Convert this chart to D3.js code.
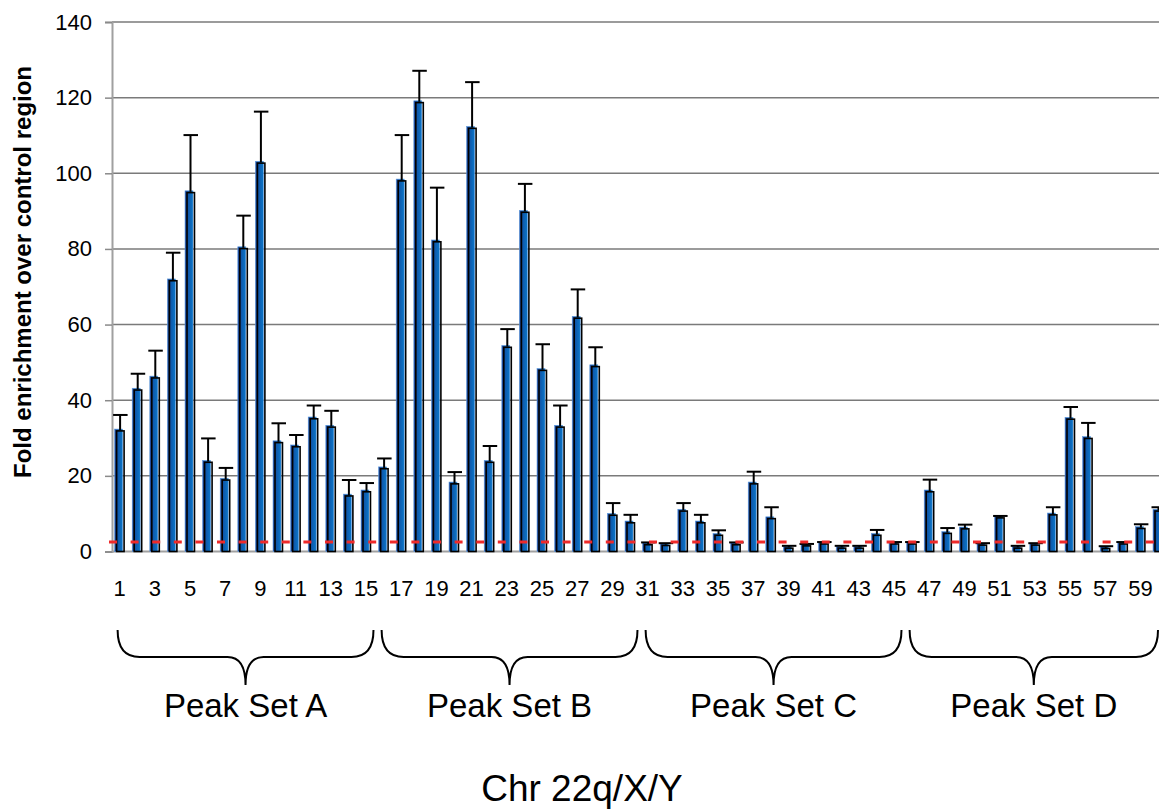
<!DOCTYPE html>
<html><head><meta charset="utf-8">
<script src="https://cdn.jsdelivr.net/npm/d3@7"></script>
<style>
html,body{margin:0;padding:0;background:#fff;}
svg{display:block;font-family:"Liberation Sans",Arial,sans-serif;}
</style></head>
<body>
<svg id="chart" width="1159" height="811"></svg>
<script>
// ---- data ----
const categories = d3.range(1, 61);
const values = [32.1,42.9,46.1,71.8,95.1,23.8,19.1,80.3,102.9,29.0,27.9,35.3,33.1,14.9,16.0,
                22.1,98.2,118.9,82.1,18.1,112.1,23.8,54.2,89.9,48.1,33.1,61.9,49.1,9.8,7.8,
                2.0,1.8,10.9,7.8,4.5,2.0,18.1,8.9,1.1,1.7,2.2,1.1,1.1,4.5,2.2,
                2.2,16.0,5.0,6.2,1.9,9.1,1.1,1.9,9.9,35.2,30.1,1.0,2.2,6.3,10.9];
const errors = [4.0,4.1,7.0,7.2,15.0,6.1,3.0,8.5,13.4,4.9,2.9,3.3,4.1,4.0,2.1,
                2.5,11.9,8.2,14.1,2.9,12.0,4.1,4.6,7.3,6.7,5.5,7.4,4.9,3.0,1.9,
                0.4,0.4,1.9,1.9,1.1,0.4,3.0,2.8,0.4,0.3,0.3,0.4,0.4,1.2,0.3,
                0.3,3.0,1.2,0.9,0.3,0.3,0.4,0.3,1.8,3.0,3.9,0.4,0.3,0.9,0.8];
const yTicks = [0,20,40,60,80,100,120,140];
const threshold = 2.5;
const groupNames = ["Peak Set A","Peak Set B","Peak Set C","Peak Set D"];
const groupFirst = [1,16,31,46];
const groupLast = [15,30,45,60];
const yTitle = "Fold enrichment over control region";
const xTitle = "Chr 22q/X/Y";

// ---- layout ----
const svg = d3.select("#chart");
const left = 110.8, step = 17.6;
const x = d3.scaleBand().domain(categories)
  .range([left, left + step * categories.length])
  .paddingInner(0.49).paddingOuter(0.245);
const y = d3.scaleLinear().domain([0,140]).range([551.5, 22]);
const plotRight = 1159, axisX = 112;

// gridlines
svg.append("g").selectAll("line").data(yTicks.filter(d => d > 0)).join("line")
  .attr("x1", axisX).attr("x2", plotRight)
  .attr("y1", d => y(d)).attr("y2", d => y(d))
  .attr("stroke", "#7a7a7a").attr("stroke-width", 1.5);

// y axis
const yAxis = d3.axisLeft(y).tickValues(yTicks).tickSize(7).tickPadding(13);
const gy = svg.append("g").attr("transform", `translate(${axisX},0)`).call(yAxis)
  .attr("font-size", 22).attr("font-family", "Liberation Sans, Arial, sans-serif");
gy.select(".domain").attr("stroke", "#a0a0a0").attr("stroke-width", 2);
gy.selectAll(".tick line").attr("stroke", "#8a8a8a").attr("stroke-width", 1.5);
gy.selectAll(".tick text").attr("fill", "#000");

// baseline
svg.append("line").attr("x1", axisX).attr("x2", plotRight)
  .attr("y1", y(0)).attr("y2", y(0)).attr("stroke", "#a0a0a0").attr("stroke-width", 2);

// gradient
const defs = svg.append("defs");
const grad = defs.append("linearGradient").attr("id", "barGrad")
  .attr("x1", "0").attr("x2", "1").attr("y1", "0").attr("y2", "0");
grad.append("stop").attr("offset", "0%").attr("stop-color", "#1f3f8e");
grad.append("stop").attr("offset", "55%").attr("stop-color", "#0d5fb2");
grad.append("stop").attr("offset", "100%").attr("stop-color", "#0a76c8");

const bw = x.bandwidth();
const data = categories.map((c, i) => ({c, v: values[i], e: errors[i]}));

// bars: blue body + offset black frame
const bars = svg.append("g");
bars.selectAll("rect.body").data(data).join("rect").attr("class", "body")
  .attr("x", d => x(d.c) - 0.5).attr("width", bw - 1)
  .attr("y", d => y(d.v) - 1).attr("height", d => y(0) - y(d.v) + 1)
  .attr("fill", "url(#barGrad)").attr("stroke", "#5b9be0").attr("stroke-width", 0.6);
bars.selectAll("rect.frame").data(data).join("rect").attr("class", "frame")
  .attr("x", d => x(d.c) + 1.5).attr("width", bw - 1.5)
  .attr("y", d => y(d.v) + 0.8).attr("height", d => Math.max(0, y(0) - y(d.v) - 0.8))
  .attr("fill", "none").attr("stroke", "#000").attr("stroke-width", 1.6);

// error bars
const eb = svg.append("g").attr("stroke", "#000").attr("stroke-width", 2);
eb.selectAll("line.stem").data(data).join("line")
  .attr("x1", d => x(d.c) + bw/2 + 0.5).attr("x2", d => x(d.c) + bw/2 + 0.5)
  .attr("y1", d => y(d.v)).attr("y2", d => y(d.v + d.e));
eb.selectAll("line.cap").data(data).join("line")
  .attr("x1", d => x(d.c) + bw/2 - 6.5).attr("x2", d => x(d.c) + bw/2 + 8)
  .attr("y1", d => y(d.v + d.e)).attr("y2", d => y(d.v + d.e));

// threshold line
svg.append("line").attr("x1", 109).attr("x2", plotRight)
  .attr("y1", y(threshold)).attr("y2", y(threshold))
  .attr("stroke", "#ee2a2a").attr("stroke-width", 3).attr("stroke-dasharray", "8,13.6");

// x tick labels (odd only)
svg.append("g").selectAll("text").data(categories.filter(c => c % 2 === 1)).join("text")
  .attr("x", c => x(c) + bw/2).attr("y", 596)
  .attr("text-anchor", "middle").attr("font-size", 22).text(c => c);

// braces
const yTop = 630, yMid = 657, yTip = 685;
groupNames.forEach((name, i) => {
  const x0 = x(groupFirst[i]) + 2.5;
  const x1 = Math.min(x(groupLast[i]) + bw + 3, 1158);
  const xm = (x0 + x1) / 2;
  const p = d3.path();
  p.moveTo(x0, yTop);
  p.quadraticCurveTo(x0, yMid, x0 + 22, yMid);
  p.lineTo(xm - 18, yMid);
  p.quadraticCurveTo(xm, yMid, xm, yTip);
  p.quadraticCurveTo(xm, yMid, xm + 18, yMid);
  p.lineTo(x1 - 22, yMid);
  p.quadraticCurveTo(x1, yMid, x1, yTop);
  svg.append("path").attr("d", p.toString()).attr("fill", "none")
    .attr("stroke", "#000").attr("stroke-width", 2);
  svg.append("text").attr("x", xm).attr("y", 717).attr("text-anchor", "middle")
    .attr("font-size", 33).text(name);
});

// titles
svg.append("text").attr("transform", "translate(31,272) rotate(-90)")
  .attr("text-anchor", "middle").attr("font-size", 24).attr("font-weight", "bold")
  .text(yTitle);
svg.append("text").attr("x", 582).attr("y", 801).attr("text-anchor", "middle")
  .attr("font-size", 37).text(xTitle);
</script>
</body></html>
